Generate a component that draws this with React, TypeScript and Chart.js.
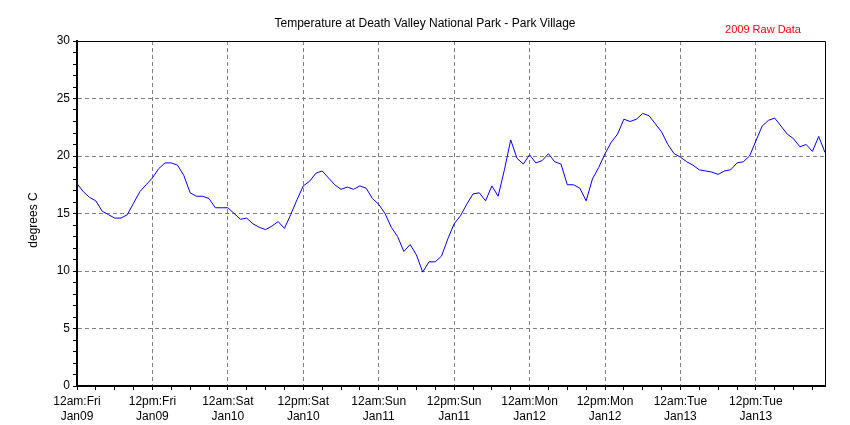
import React, { useEffect, useRef } from "react";
import { Chart, registerables } from "chart.js";

Chart.register(...registerables);

const TITLE = "Temperature at Death Valley National Park - Park Village";
const SUBTITLE = "2009 Raw Data";
const Y_TITLE = "degrees C";

// tick labels every 12 hours
const X_TICK_LABELS: string[][] = [
  ["12am:Fri", "Jan09"],
  ["12pm:Fri", "Jan09"],
  ["12am:Sat", "Jan10"],
  ["12pm:Sat", "Jan10"],
  ["12am:Sun", "Jan11"],
  ["12pm:Sun", "Jan11"],
  ["12am:Mon", "Jan12"],
  ["12pm:Mon", "Jan12"],
  ["12am:Tue", "Jan13"],
  ["12pm:Tue", "Jan13"],
];

// hourly temperatures (degrees C), hour 0 = 12am Fri Jan09
const temps: number[] = [
  17.6, 16.9, 16.4, 16.1, 15.2, 14.9, 14.6, 14.6, 14.9, 15.9, 16.9, 17.5,
  18.1, 18.9, 19.4, 19.4, 19.2, 18.3, 16.8, 16.5, 16.5, 16.3, 15.5, 15.5,
  15.5, 15.0, 14.5, 14.6, 14.1, 13.8, 13.6, 13.9, 14.3, 13.7, 14.9, 16.2,
  17.4, 17.8, 18.5, 18.7, 18.1, 17.5, 17.1, 17.3, 17.1, 17.4, 17.2, 16.3,
  15.8, 15.0, 13.8, 13.0, 11.7, 12.3, 11.4, 9.9, 10.8, 10.8, 11.3, 12.8,
  14.1, 14.8, 15.8, 16.7, 16.8, 16.1, 17.4, 16.5, 18.8, 21.4, 19.8, 19.3,
  20.1, 19.4, 19.6, 20.2, 19.5, 19.3, 17.5, 17.5, 17.2, 16.1, 18.0, 19.0,
  20.2, 21.2, 21.9, 23.2, 23.0, 23.2, 23.7, 23.5, 22.8, 22.1, 21.0, 20.2,
  19.9, 19.5, 19.2, 18.8, 18.7, 18.6, 18.4, 18.7, 18.8, 19.4, 19.5, 20.0,
  21.3, 22.6, 23.1, 23.3, 22.6, 21.9, 21.5, 20.8, 21.0, 20.4, 21.7, 20.3,
];

const X_MAX = temps.length - 1;
const Y_MIN = 0;
const Y_MAX = 30;

const FONT = "Arial, 'Liberation Sans', sans-serif";

const decorPlugin = {
  id: "decor",
  afterDraw(chart: any) {
    const { ctx, chartArea: a, width } = chart;
    ctx.save();
    // top and right frame
    ctx.strokeStyle = "#000";
    ctx.lineWidth = 1;
    ctx.beginPath();
    ctx.moveTo(a.left, Math.floor(a.top) + 0.5);
    ctx.lineTo(Math.round(a.right) + 0.5, Math.floor(a.top) + 0.5);
    ctx.lineTo(Math.round(a.right) + 0.5, a.bottom);
    ctx.stroke();

    // title
    ctx.fillStyle = "#000";
    ctx.font = `12px ${FONT}`;
    ctx.textAlign = "center";
    ctx.textBaseline = "middle";
    ctx.fillText(TITLE, width / 2, 24);

    // subtitle
    ctx.fillStyle = "#ff0000";
    ctx.font = `11px ${FONT}`;
    ctx.fillText(SUBTITLE, 763, 30);

    // y title
    ctx.fillStyle = "#000";
    ctx.font = `12px ${FONT}`;
    ctx.translate(34, 220);
    ctx.rotate(-Math.PI / 2);
    ctx.fillText(Y_TITLE, 0, 0);
    ctx.restore();
  },
};

export default function App() {
  const canvasRef = useRef<HTMLCanvasElement | null>(null);

  useEffect(() => {
    const canvas = canvasRef.current;
    if (!canvas) return;
    const chart = new Chart(canvas, {
      type: "line",
      data: {
        datasets: [
          {
            data: temps.map((y, i) => ({ x: i, y })),
            borderColor: "#0000ff",
            borderWidth: 1,
            pointRadius: 0,
            tension: 0,
            fill: false,
          },
        ],
      },
      options: {
        animation: false,
        responsive: false,
        maintainAspectRatio: false,
        events: [],
        layout: { padding: { left: 0, top: 41, right: 25, bottom: 0 } },
        plugins: {
          legend: { display: false },
          title: { display: false },
          tooltip: { enabled: false },
        },
        scales: {
          x: {
            type: "linear",
            min: 0,
            max: X_MAX,
            afterFit: (s: any) => {
              s.height = 39;
            },
            border: { display: true, color: "#000", width: 2, dash: [4, 3] },
            grid: {
              color: (c: any) =>
                c.tick && c.tick.value % 12 === 0 && c.tick.value !== 0
                  ? "#808080"
                  : "rgba(0,0,0,0)",
              lineWidth: 1,
              drawTicks: true,
              tickLength: 4,
              tickColor: "#000",
              tickBorderDash: [],
              tickWidth: 1,
            },
            ticks: {
              stepSize: 3,
              autoSkip: false,
              includeBounds: false,
              maxRotation: 0,
              minRotation: 0,
              padding: 4,
              color: "#000",
              font: { family: FONT, size: 12, lineHeight: 1.25 },
              callback: (v: any) => {
                const n = Number(v);
                return n % 12 === 0 ? X_TICK_LABELS[n / 12] || "" : "";
              },
            },
          },
          y: {
            type: "linear",
            min: Y_MIN,
            max: Y_MAX,
            afterFit: (s: any) => {
              s.width = 77;
            },
            border: { display: true, color: "#000", width: 2, dash: [4, 3] },
            grid: {
              color: (c: any) =>
                c.tick &&
                c.tick.value % 5 === 0 &&
                c.tick.value !== Y_MIN &&
                c.tick.value !== Y_MAX
                  ? "#808080"
                  : "rgba(0,0,0,0)",
              lineWidth: 1,
              drawTicks: true,
              tickLength: 4,
              tickColor: "#000",
              tickBorderDash: [],
              tickWidth: 1,
            },
            ticks: {
              stepSize: 1,
              autoSkip: false,
              padding: 3,
              color: "#000",
              font: { family: FONT, size: 12 },
              callback: (v: any) => {
                const n = Number(v);
                return n % 5 === 0 ? String(n) : "";
              },
            },
          },
        },
      },
      plugins: [decorPlugin],
    } as any);
    return () => chart.destroy();
  }, []);

  return (
    <div
      style={{
        position: "fixed",
        left: 0,
        top: 0,
        width: 850,
        height: 425,
        background: "#fff",
      }}
    >
      <canvas ref={canvasRef} width={850} height={425} style={{ width: 850, height: 425 }} />
    </div>
  );
}
